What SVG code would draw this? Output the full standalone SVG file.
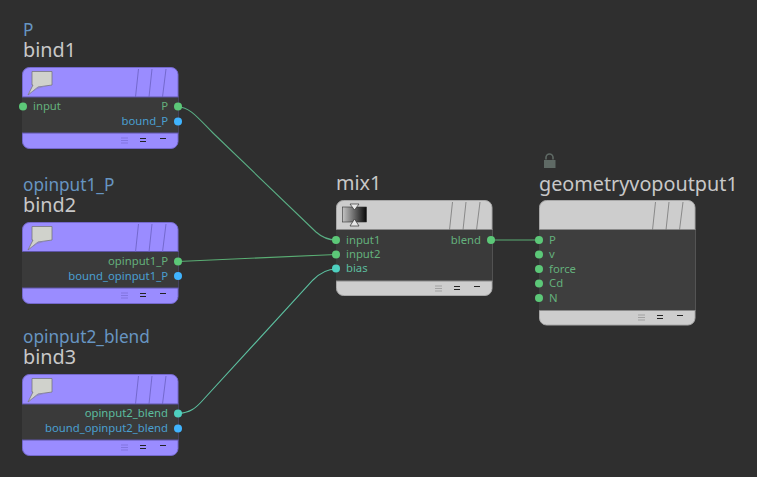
<svg xmlns="http://www.w3.org/2000/svg" xmlns:xlink="http://www.w3.org/1999/xlink" width="757" height="477" viewBox="0 0 757 477">
<style>
text{font-family:"Noto Sans","Open Sans","Liberation Sans",sans-serif}
.name{font-size:19.800px;fill:#c8c8c8}
.alt{font-size:17.200px;fill:#6795c2}
.g{font-size:11.300px;fill:#64b07c}
.b{font-size:11.300px;fill:#4a9fd0}
.t{font-size:11.300px;fill:#5cbc9e}
.e{text-anchor:end}
.gd{fill:#5cc878}.bd{fill:#40b4ff}.td{fill:#4ed0c0}
.wire{fill:none;stroke-width:1.100}
.slash{fill:none;stroke:currentColor;stroke-width:.8}
.pu{color:#6a5fc0}
.gr{color:#777}
.pu .shell{fill:#9a8cff;stroke:#7468cc}
.gr .shell{fill:#cdcdcd;stroke:#a8a8a8}
.body{fill:#3a3a3a}
.sep{stroke-width:1}
.pu .sep{stroke:#5f55a8}
.gr .sep{stroke:#8a8a8a}
.bar{stroke:#222;stroke-width:1.200}
.lines{stroke:currentColor;stroke-width:.7;opacity:.7}
</style>
<defs>
<linearGradient id="grad"><stop offset="0" stop-color="#c4c4c4"/><stop offset="1" stop-color="#080808"/></linearGradient>
<g id="flag"><path d="M32 71.500H52V85L38 87 28 95 33 85H32Z" fill="#d0d2cc" stroke="#77777c" stroke-width=".8"/><path d="M28 95 38 87 47 86 37 89Z" fill="#8f88c8"/></g>
<path id="slashes" class="slash" d="M138.500 0 135.500 28M152 0 149 28M166 0 162.500 28"/>
<g id="foot"><path class="lines" d="M0 0h7M0 2.500h7M0 5h7"/><path class="bar" d="M19 .5h6M19 3.500h6M39 .5h6"/></g>
</defs>
<rect width="757" height="477" fill="#2f2f2f"/>
<g id="connectors">
<path class="wire" stroke="#5aae84" d="M178 107C190 107 198 118 213 133L316 232C324 239 330 240 336 240"/>
<path class="wire" stroke="#5aae74" d="M178 261.500L336 254.500"/>
<path class="wire" stroke="#5cc0a0" d="M178 413.500C190 413 196 408 203 400L313 280C322 271 330 269 336 269"/>
<path class="wire" stroke="#5aae74" d="M491 240H539"/>
</g>
<g id="bind1" class="pu">
<text class="alt" x="23" y="36">P</text><text class="name" x="23" y="57">bind1</text>
<rect class="shell" x="22.500" y="67.500" width="155.500" height="81" rx="7"/>
<rect class="body" x="22" y="97" width="156.500" height="36"/>
<path class="sep" d="M22 97H178.500M22 133H178.500"/>
<use xlink:href="#flag"/><use xlink:href="#slashes" y="69"/><use xlink:href="#foot" x="121" y="138"/>
<circle class="gd" cx="23" cy="106.500" r="4"/><text class="g" x="33" y="110">input</text>
<text class="g e" x="168" y="110">P</text><circle class="gd" cx="178" cy="106.500" r="4"/>
<text class="b e" x="168" y="125">bound_P</text><circle class="bd" cx="178" cy="121.500" r="4"/>
</g>
<g id="bind2" class="pu">
<text class="alt" x="23" y="191">opinput1_P</text><text class="name" x="23" y="212">bind2</text>
<rect class="shell" x="22.500" y="222.500" width="155.500" height="81" rx="7"/>
<rect class="body" x="22" y="251.500" width="156.500" height="36.500"/>
<path class="sep" d="M22 251.500H178.500M22 288H178.500"/>
<use xlink:href="#flag" y="155"/><use xlink:href="#slashes" y="224"/><use xlink:href="#foot" x="121" y="293"/>
<text class="g e" x="168" y="265">opinput1_P</text><circle class="gd" cx="178" cy="261.500" r="4"/>
<text class="b e" x="168" y="279.500">bound_opinput1_P</text><circle class="bd" cx="178" cy="276" r="4"/>
</g>
<g id="bind3" class="pu">
<text class="alt" x="23" y="343">opinput2_blend</text><text class="name" x="23" y="364">bind3</text>
<rect class="shell" x="22.500" y="374.500" width="155.500" height="81" rx="7"/>
<rect class="body" x="22" y="404" width="156.500" height="36"/>
<path class="sep" d="M22 404H178.500M22 440H178.500"/>
<use xlink:href="#flag" y="307"/><use xlink:href="#slashes" y="376"/><use xlink:href="#foot" x="121" y="445"/>
<text class="t e" x="168" y="417">opinput2_blend</text><circle class="td" cx="178" cy="413.500" r="4"/>
<text class="b e" x="168" y="432">bound_opinput2_blend</text><circle class="bd" cx="178" cy="428.500" r="4"/>
</g>
<g id="mix1" class="gr">
<text class="name" x="336" y="190">mix1</text>
<rect class="shell" x="336.500" y="200.500" width="155.500" height="95" rx="7"/>
<rect class="body" x="336" y="229.500" width="156.500" height="51.500"/>
<path class="sep" d="M336 229.500H492.500M336 281H492.500"/>
<rect x="342.500" y="207" width="24" height="15" fill="url(#grad)" stroke="#333" stroke-width=".6"/>
<path d="M350 204H359L354.500 210ZM350 226H359L354.500 219Z" fill="#e8e8e8" stroke="#333" stroke-width=".7"/>
<use xlink:href="#slashes" x="314" y="202"/><use xlink:href="#foot" x="435" y="286"/>
<circle class="gd" cx="336" cy="240" r="4"/><text class="g" x="346" y="243.500">input1</text>
<circle class="gd" cx="336" cy="254.500" r="4"/><text class="g" x="346" y="258">input2</text>
<circle class="td" cx="336" cy="268.500" r="4"/><text class="t" x="346" y="272">bias</text>
<text class="g e" x="481" y="243.500">blend</text><circle class="gd" cx="491" cy="240" r="4"/>
</g>
<g id="geometryvopoutput1" class="gr">
<path d="M546 159.500V157.500a3.500 3.500 0 0 1 7 0V159.500" fill="none" stroke="#5f6a65" stroke-width="1.600"/><rect x="544" y="160" width="11.500" height="8" fill="#5f6a65"/>
<text class="name" x="539" y="191">geometryvopoutput1</text>
<rect class="shell" x="539.500" y="200.500" width="155.500" height="124.500" rx="7"/>
<rect class="body" x="539" y="229.500" width="156.500" height="81" style="fill:#3e3e3e"/>
<path class="sep" d="M539 229.500H695.500M539 310.500H695.500"/>
<use xlink:href="#slashes" x="517" y="202"/><use xlink:href="#foot" x="638" y="315"/>
<circle class="gd" cx="539" cy="240" r="4"/><text class="g" x="549" y="243.500">P</text>
<circle class="gd" cx="539" cy="254.500" r="4"/><text class="g" x="549" y="258">v</text>
<circle class="gd" cx="539" cy="269" r="4"/><text class="g" x="549" y="272.500">force</text>
<circle class="gd" cx="539" cy="283.500" r="4"/><text class="g" x="549" y="287">Cd</text>
<circle class="gd" cx="539" cy="298" r="4"/><text class="g" x="549" y="301.500">N</text>
</g>
</svg>
